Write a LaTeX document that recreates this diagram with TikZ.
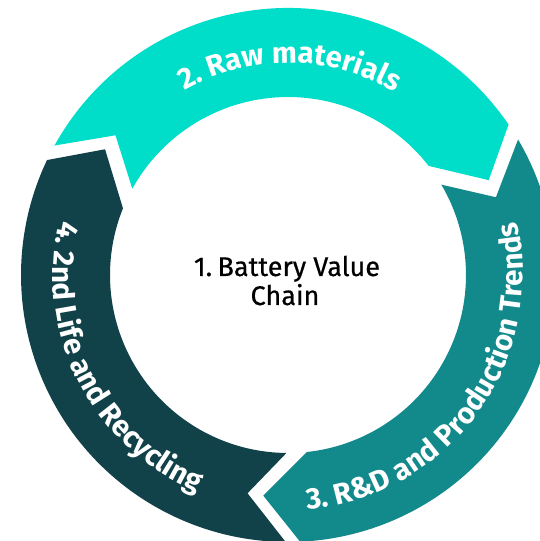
\documentclass[tikz,border=0pt]{standalone}
\usepackage{fontspec}
\setmainfont{Fira Sans}
\newfontfamily\medfont[FakeBold=0.6]{Fira Sans}
\usetikzlibrary{decorations.text}
\definecolor{cyanc}{RGB}{0,221,200}
\definecolor{tealc}{RGB}{18,137,138}
\definecolor{darkc}{RGB}{17,66,74}
\newcommand{\ringfont}{\bfseries\fontsize{29.5}{29.5}\selectfont}
\tikzset{
  ringtext/.style={decorate, decoration={text along path, text={|\ringfont|#1}, text align=center, text color=white}},
  centertext/.style={font=\medfont\fontsize{27}{29}\selectfont, text=black, inner sep=0pt, anchor=base}
}
\begin{document}
\begin{tikzpicture}
\useasboundingbox (0,0) rectangle (540pt,541pt);
\clip (0,0) rectangle (540pt,541pt);
\begin{scope}[shift={(288pt,266pt)}]
\foreach \col/\T/\Ho in {cyanc/151/34.3, tealc/30.5/-87.4, darkc/269.5/154.5} {
  \pgfmathsetmacro\tip{\Ho-9}
  \pgfmathsetmacro\Hi{\Ho+3.5}
  \pgfmathsetmacro\notch{\T-10}
  \fill[\col] (\T:267pt) arc[start angle=\T, end angle=\Ho, radius=267pt]
     -- (\tip:222pt) -- (\Hi:178pt)
     arc[start angle=\Hi, end angle=\T, radius=178pt]
     -- (\notch:222pt) -- cycle;
}
\path[ringtext={2. Raw materials}] (150:212pt) arc[start angle=150, end angle=29, radius=212pt];
\path[ringtext={3. R{\&}D and Production Trends}] (-96:235pt) arc[start angle=-96, end angle=24, radius=235pt];
\path[ringtext={4. 2nd Life and Recycling}] (147:235pt) arc[start angle=147, end angle=267, radius=235pt];
\node[centertext] (title1) at (-1pt,-1pt) {1.\kern0.2em Battery Value};
\node[centertext] (title2) at (-3pt,-30pt) {Chain};
\end{scope}
\end{tikzpicture}
\end{document}
